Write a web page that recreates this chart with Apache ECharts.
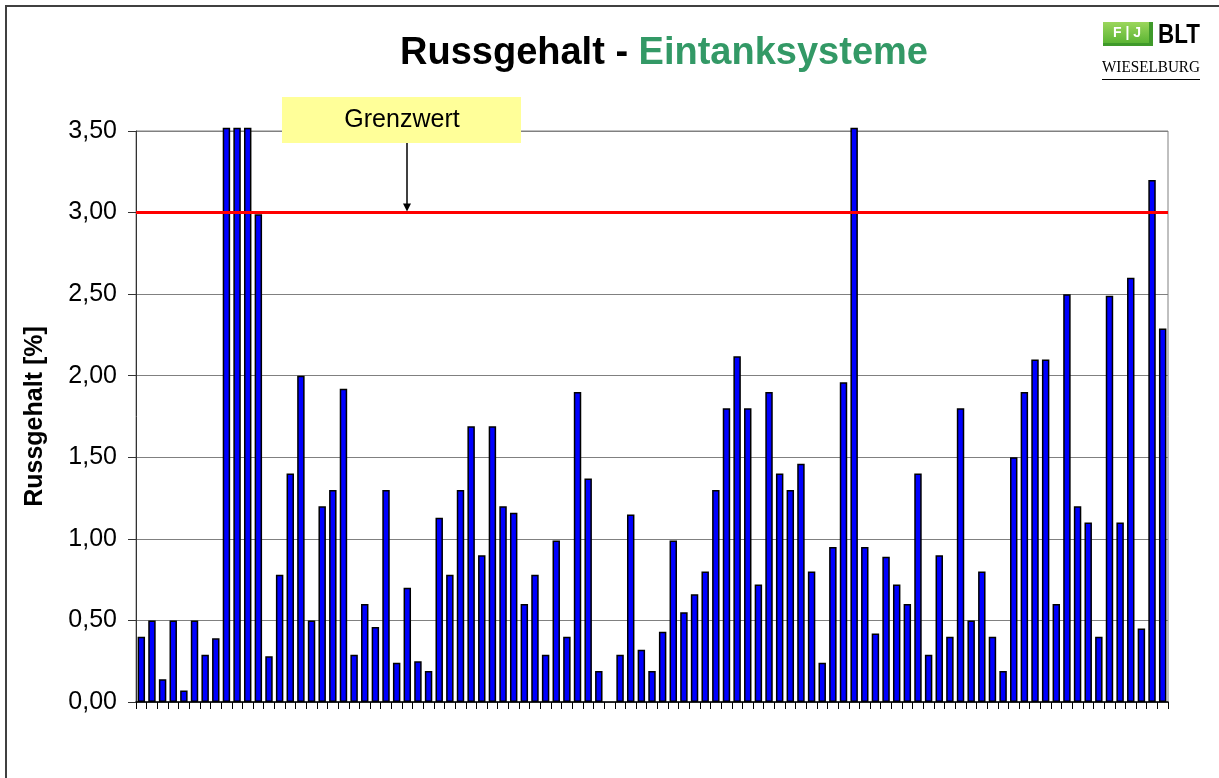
<!DOCTYPE html>
<html>
<head>
<meta charset="utf-8">
<script src="https://cdn.jsdelivr.net/npm/echarts@6/dist/echarts.min.js"></script>
<style>
html,body{margin:0;padding:0;background:#fff;}
#chart{width:1219px;height:778px;}
</style>
</head>
<body>
<div id="chart"></div>
<script>
// Sample identifiers (x axis categories, labels not shown in the original)
const categories = ["1","2","3","4","5","6","7","8","9","10","11","12","13","14","15","16","17","18","19","20",
"21","22","23","24","25","26","27","28","29","30","31","32","33","34","35","36","37","38","39","40",
"41","42","43","44","45","46","47","48","49","50","51","52","53","54","55","56","57","58","59","60",
"61","62","63","64","65","66","67","68","69","70","71","72","73","74","75","76","77","78","79","80",
"81","82","83","84","85","86","87","88","89","90","91","92","93","94","95","96","97"];

// Russgehalt [%] per sample (bars above 3,50 are off-scale in the original)
const russgehalt = [0.40,0.50,0.14,0.50,0.07,0.50,0.29,0.39,3.52,3.52,
3.52,2.99,0.28,0.78,1.40,2.00,0.50,1.20,1.30,1.92,
0.29,0.60,0.46,1.30,0.24,0.70,0.25,0.19,1.13,0.78,
1.30,1.69,0.90,1.69,1.20,1.16,0.60,0.78,0.29,0.99,
0.40,1.90,1.37,0.19,null,0.29,1.15,0.32,0.19,0.43,
0.99,0.55,0.66,0.80,1.30,1.80,2.12,1.80,0.72,1.90,
1.40,1.30,1.46,0.80,0.24,0.95,1.96,3.52,0.95,0.42,
0.89,0.72,0.60,1.40,0.29,0.90,0.40,1.80,0.50,0.80,
0.40,0.19,1.50,1.90,2.10,2.10,0.60,2.50,1.20,1.10,
0.40,2.49,1.10,2.60,0.45,3.20,2.29];

const grenzwert = 3.0;
const yTicks = [0, 0.5, 1.0, 1.5, 2.0, 2.5, 3.0, 3.5];
const titleBlack = "Russgehalt - ";
const titleGreen = "Eintanksysteme";
const yAxisName = "Russgehalt [%]";
const grenzLabel = "Grenzwert";

const FONT = "'Liberation Sans', Arial, sans-serif";
const chart = echarts.init(document.getElementById('chart'), null, {renderer:'canvas'});

const option = {
  backgroundColor: '#ffffff',
  animation: false,
  title: {
    text: '{a|' + titleBlack + '}{b|' + titleGreen + '}',
    left: 395, top: 30,
    textStyle: {
      rich: {
        a: {fontFamily: FONT, fontSize: 38, fontWeight: 'bold', color: '#000000'},
        b: {fontFamily: FONT, fontSize: 38, fontWeight: 'bold', color: '#339966'}
      }
    }
  },
  grid: {
    left: 136, right: 51, top: 131, bottom: 76,
    show: true, borderColor: '#808080', borderWidth: 1, backgroundColor: 'transparent'
  },
  xAxis: {
    type: 'category',
    data: categories,
    boundaryGap: true,
    axisLine: {show: true, lineStyle: {color: '#000000', width: 1.5}},
    axisTick: {show: true, interval: 0, length: 7, lineStyle: {color: '#000000', width: 1}},
    axisLabel: {show: false},
    splitLine: {show: false}
  },
  yAxis: {
    type: 'value',
    min: yTicks[0], max: yTicks[yTicks.length - 1], interval: 0.5,
    name: yAxisName,
    nameLocation: 'middle',
    nameRotate: 90,
    nameGap: 88,
    nameTextStyle: {fontFamily: FONT, fontSize: 25, fontWeight: 'bold', color: '#000000'},
    axisLine: {show: true, lineStyle: {color: '#333333', width: 1}},
    axisTick: {show: true, length: 8, lineStyle: {color: '#333333', width: 1}},
    axisLabel: {
      margin: 19, fontFamily: FONT, fontSize: 25, color: '#000000',
      formatter: v => v.toFixed(2).replace('.', ',')
    },
    splitLine: {show: true, lineStyle: {color: '#808080', width: 1}}
  },
  series: [{
    type: 'bar',
    data: russgehalt,
    barWidth: '70%',
    clip: false,
    itemStyle: {color: '#0000ff', borderColor: '#000000', borderWidth: 1.5},
    markLine: {
      silent: true,
      symbol: ['none', 'none'],
      label: {show: false},
      lineStyle: {color: '#ff0000', width: 3, type: 'solid'},
      data: [{yAxis: grenzwert}]
    },
    z: 2
  }]
};
chart.setOption(option);

const yPix = chart.convertToPixel({yAxisIndex: 0}, grenzwert);
const xArrow = 407;
chart.setOption({
  graphic: [
    {type: 'rect', z: 100, silent: true, shape: {x: 6, y: 6, width: 1400, height: 1000},
     style: {fill: 'none', stroke: '#404040', lineWidth: 2}},
    {type: 'rect', z: 100, shape: {x: 282, y: 97, width: 239, height: 46}, style: {fill: '#ffff99'}},
    {type: 'text', z: 101, x: 402, y: 120,
     style: {text: grenzLabel, font: '25px ' + FONT, fill: '#000000', textAlign: 'center', textVerticalAlign: 'middle'}},
    {type: 'line', z: 101, shape: {x1: xArrow, y1: 143, x2: xArrow, y2: yPix - 8},
     style: {stroke: '#000000', lineWidth: 1.5}},
    {type: 'polygon', z: 101, shape: {points: [[xArrow - 4, yPix - 9], [xArrow + 4, yPix - 9], [xArrow, yPix - 1]]},
     style: {fill: '#000000'}},
    // logo
    {type: 'rect', z: 100, shape: {x: 1103, y: 22, width: 50, height: 24},
     style: {fill: '#3f9a2a'}},
    {type: 'rect', z: 100, shape: {x: 1103, y: 22, width: 46, height: 21},
     style: {fill: new echarts.graphic.LinearGradient(0, 0, 0, 1, [{offset: 0, color: '#9bd65c'}, {offset: 1, color: '#5cb534'}])}},
    {type: 'text', z: 101, x: 1127, y: 33,
     style: {text: 'F | J', font: 'bold 14px ' + FONT, fill: '#ffffff', textAlign: 'center', textVerticalAlign: 'middle'}},
    {type: 'text', z: 101, x: 1179, y: 35, scaleX: 0.8,
     style: {text: 'BLT', font: 'bold 28px ' + FONT, fill: '#000000', textAlign: 'center', textVerticalAlign: 'middle'}},
    {type: 'text', z: 101, x: 1151, y: 68, scaleX: 0.95,
     style: {text: 'WIESELBURG', font: '16px "Liberation Serif", serif', fill: '#000000', textAlign: 'center', textVerticalAlign: 'middle'}},
    {type: 'line', z: 101, shape: {x1: 1102, y1: 79.5, x2: 1200, y2: 79.5}, style: {stroke: '#000000', lineWidth: 1}}
  ]
});
</script>
</body>
</html>
